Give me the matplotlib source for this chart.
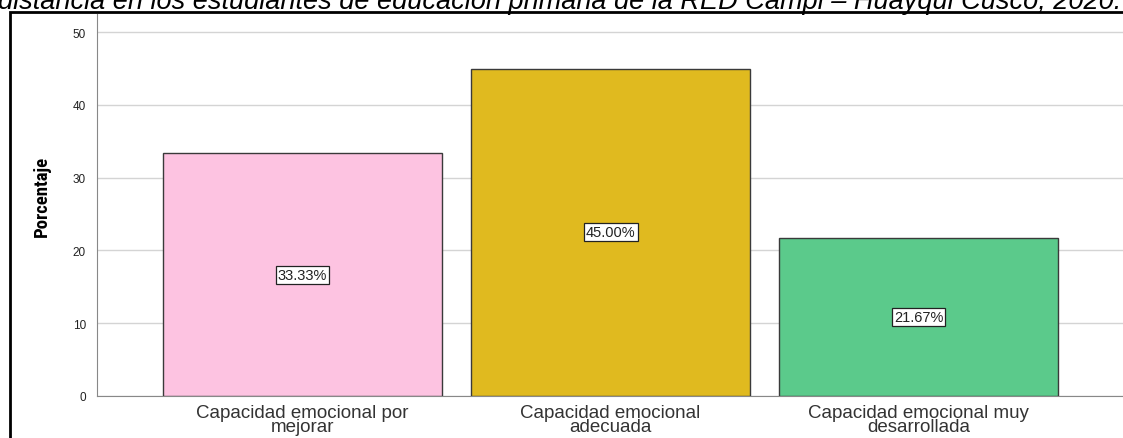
import matplotlib.pyplot as plt
import matplotlib.font_manager as fm
from matplotlib.patches import Rectangle

# data
categorias = ['Capacidad emocional por\nmejorar',
              'Capacidad emocional\nadecuada',
              'Capacidad emocional muy\ndesarrollada']
porcentajes = [33.33, 45.00, 21.67]
colores = ['#FDC3E1', '#E0BA1F', '#5BCA8B']
titulo = ('distancia en los estudiantes de educación primaria de la RED Campi – '
          'Huayqui Cusco, 2020.')

names = {f.name for f in fm.fontManager.ttflist}
narrow = 'Liberation Sans'
for cand in ['Liberation Sans Narrow', 'Arial Narrow', 'Roboto Condensed',
             'Archivo Narrow', 'Asap Condensed', 'Barlow Condensed']:
    if cand in names:
        narrow = cand
        break

plt.rcParams['font.family'] = ['Liberation Sans', 'DejaVu Sans']

fig = plt.figure(figsize=(11.23, 4.39), dpi=100)
W, H = 1123, 439

# partial title (cut at top, as in the source)
fig.text(560 / W, 1 - 9 / H, titulo, ha='center', va='baseline', fontsize=19.5,
         style='italic', color='black')

# outer frame
fig.patches.append(Rectangle((10 / W, -0.1), 1.2, 1 - 13 / H + 0.1,
                             transform=fig.transFigure, fill=False,
                             edgecolor='black', linewidth=2))

ax = fig.add_axes([97 / W, 1 - 397 / H, 1 - 97 / W + 0.01, (397 - 15) / H])
x = range(len(categorias))
ax.bar(x, porcentajes, width=0.905, color=colores,
       edgecolor='#3a3a3a', linewidth=1, zorder=3)

for i, v in enumerate(porcentajes):
    ax.text(i, v / 2, f'{v:.2f}%', ha='center', va='center', fontsize=10.5,
            color='#222222', zorder=4,
            bbox=dict(boxstyle='square,pad=0.15', facecolor='white',
                      edgecolor='#222222', linewidth=0.9))

ax.set_xlim(-0.667, 2.7)
ax.set_ylim(0, 52.5)
ax.set_yticks([0, 10, 20, 30, 40, 50])
ax.yaxis.grid(True, color='#d4d4d4', linewidth=1, zorder=0)
ax.set_axisbelow(True)
ax.set_xticks(list(x))
ax.set_xticklabels(categorias, fontsize=13.5, color='#333333', linespacing=0.72)
ax.tick_params(axis='x', length=0, pad=6)
ax.tick_params(axis='y', length=0, pad=8, labelsize=8.5, colors='#222222')
for s in ['top', 'right']:
    ax.spines[s].set_visible(False)
ax.spines['left'].set_color('#888888')
ax.spines['bottom'].set_color('#888888')
ax.set_ylabel('Porcentaje', fontsize=13.5, fontweight='bold', family=narrow)
ax.yaxis.set_label_coords(-0.044, 0.524)

fig.savefig('out.png', dpi=100)
